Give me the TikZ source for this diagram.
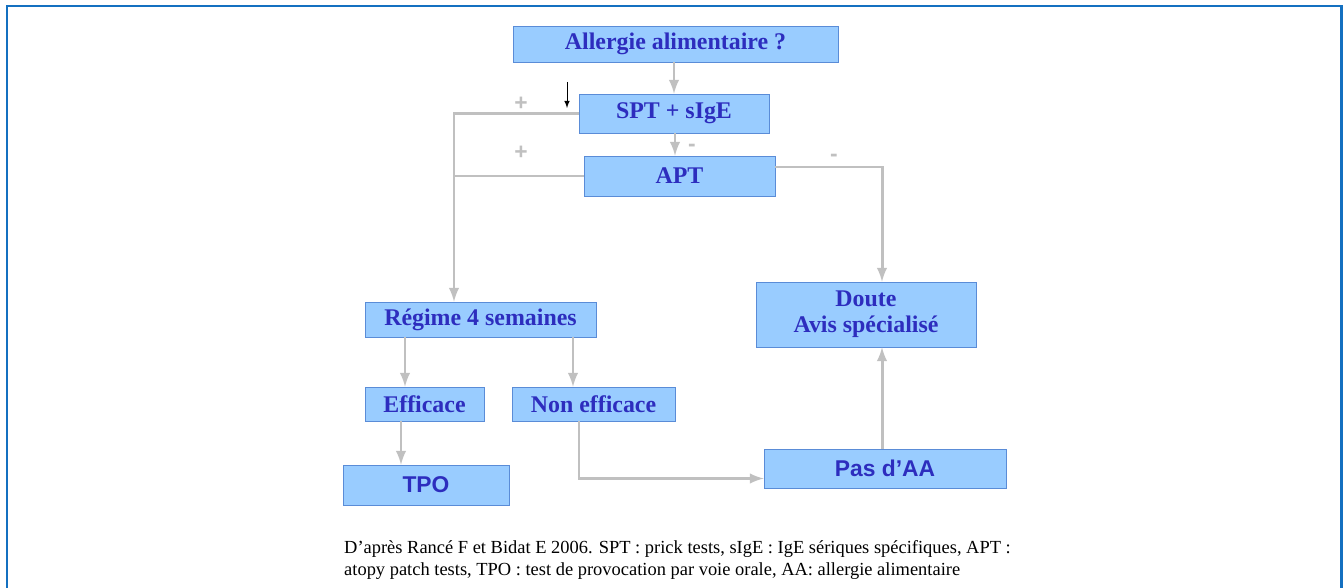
\documentclass[tikz,border=0pt]{standalone}
\usepackage{fontspec}
\setmainfont{Liberation Serif}
\setsansfont{Liberation Sans}
\usepackage{xcolor}
\usepackage{tikz}
\usetikzlibrary{calc}
\usetikzlibrary{positioning}
\definecolor{boxfill}{RGB}{153,204,255}
\definecolor{boxline}{RGB}{90,140,215}
\definecolor{boxtext}{RGB}{45,45,190}
\definecolor{linkgray}{RGB}{192,192,192}
\definecolor{framblue}{RGB}{20,112,192}
\tikzset{
	box/.style={draw=boxline,fill=boxfill,text=boxtext,font=\fontsize{13.6}{15}\selectfont\bfseries,inner sep=0pt,align=center},
	sansbox/.style={box,font=\fontsize{13}{15}\selectfont\sffamily\bfseries},
	link/.style={-latex,draw=linkgray,line width=1.7pt},
	sign/.style={text=linkgray,font=\fontsize{13}{15}\selectfont\sffamily\bfseries}
}

\begin{document}
\begin{tikzpicture}[x=0.02cm,y=-0.02cm]
	\useasboundingbox (0,0) rectangle (1343,588);
	\draw[framblue,line width=1.7pt] (7,588) -- (7,6) -- (1341,6) -- (1341,588);
	\node[box,minimum width=6.5cm,minimum height=0.72cm] (allergie) at (675.5,44) {Allergie alimentaire ?};
	\node[box,minimum width=3.8cm,minimum height=0.78cm] (spt) at (674,113.5) {SPT + sIgE};
	\node[box,minimum width=3.82cm,minimum height=0.8cm] (apt) at (679.5,176) {APT};
	\node[box,minimum width=4.62cm,minimum height=0.7cm] (regime) at (480.5,319.5) {Régime 4 semaines};
	\node[box,minimum width=2.38cm,minimum height=0.68cm] (efficace) at (424.5,404) {Efficace};
	\node[box,minimum width=3.26cm,minimum height=0.68cm] (nonefficace) at (593.5,404) {Non efficace};
	\node[sansbox,minimum width=3.32cm,minimum height=0.8cm] (tpo) at (426,485) {TPO};
	\node[box,minimum width=4.4cm,minimum height=1.3cm] (doute) at (866,314.5) {Doute\\Avis spécialisé};
	\node[sansbox,minimum width=4.84cm,minimum height=0.78cm] (pasaa) at (885,468.5) {Pas d'AA};
	\coordinate (split) at (454,176);
	\draw[link] (allergie.south -| 674,0) -- (spt.north -| 674,0);
	\draw[link] (spt.south -| 675,0) -- (apt.north -| 675,0);
	\draw[link] (spt.west) -| (split) -- (split |- regime.north);
	\draw[draw=linkgray,line width=1.7pt] (apt.west) -- (split);
	\draw[link] ([yshift=0.18cm]apt.east) -| (doute.north -| 882,0);
	\draw[link] (regime.south -| 405,0) -- (efficace.north -| 405,0);
	\draw[link] (regime.south -| 573,0) -- (nonefficace.north -| 573,0);
	\draw[link] (efficace.south -| 401,0) -- (tpo.north -| 401,0);
	\draw[link] (nonefficace.south -| 579,0) |- ([yshift=-0.2cm]pasaa.west);
	\draw[link] (pasaa.north -| 882,0) -- (doute.south -| 882,0);
	\draw[-latex,black] (567,82) -- (567,108);
	\node[sign] (plusa) at (521,104) {+};
	\node[sign] (plusb) at (521,153) {+};
	\node[sign] (minusa) at (692,148) {-};
	\node[sign] (minusb) at (834,158) {-};
	\node[anchor=west,align=left,font=\fontsize{10.5}{12}\selectfont] (source) at (338,560) {D’après Rancé F et Bidat E 2006. SPT : prick tests, sIgE : IgE sériques spécifiques, APT :\\atopy patch tests, TPO : test de provocation par voie orale, AA: allergie alimentaire};
\end{tikzpicture}
\end{document}
